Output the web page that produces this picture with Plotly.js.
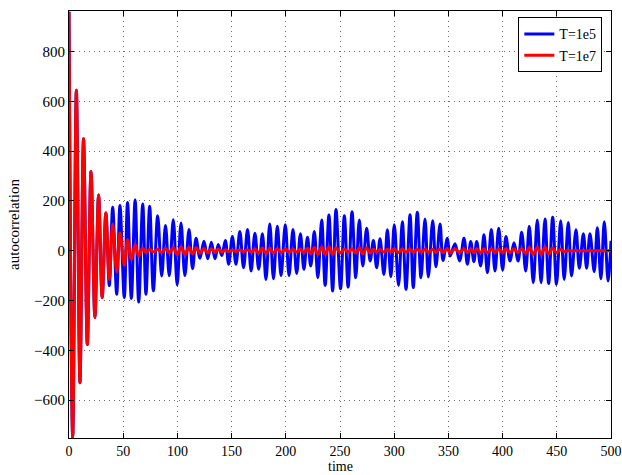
<!DOCTYPE html>
<html>
<head>
<meta charset="utf-8">
<script src="https://cdn.plot.ly/plotly-3.0.1.min.js"></script>
<style>html,body{margin:0;padding:0;background:#fff;}#chart{width:622px;height:475px;}</style>
</head>
<body>
<div id="chart"></div>
<script>
// Times of the successive peaks/troughs
const tExt = [
  0, 3.4, 6.8, 10.1, 13.4, 16.9, 20.3, 23.9, 27.3, 30.6,
  34.0, 37.2, 40.3, 44.0, 47.0, 51.0, 54.0, 57.5, 61.0, 64.3,
  68.0, 71.0, 74.4, 77.8, 81.8, 85.5, 89.0, 92.5, 96.2, 99.8,
  103.3, 106.9, 110.7, 114.0, 117.2, 120.8, 124.5, 128.0, 131.3, 134.7,
  137.7, 141.0, 144.2, 147.3, 150.7, 154.0, 157.6, 161.0, 164.7, 168.0,
  171.5, 175.0, 178.4, 181.7, 185.2, 188.6, 192.2, 195.6, 199.5, 203.0,
  206.6, 210.0, 213.5, 216.7, 220.0, 223.0, 226.3, 229.6, 233.1, 236.3,
  239.8, 243.2, 246.3, 250.5, 254.0, 257.5, 261.1, 264.5, 267.8, 271.0,
  274.6, 277.8, 280.8, 283.8, 286.9, 290.5, 293.7, 296.9, 300.1, 304.0,
  307.5, 310.9, 314.6, 317.6, 321.3, 324.7, 328.4, 331.5, 335.5, 338.5,
  342.3, 345.0, 349.0, 351.6, 356.1, 360.3, 364.4, 367.5, 370.6, 373.5,
  376.1, 379.7, 382.8, 386.0, 389.6, 393.0, 396.4, 400.0, 403.1, 406.8,
  410.5, 414.3, 417.6, 421.3, 424.6, 428.3, 432.0, 435.5, 439.1, 442.5,
  446.2, 449.7, 453.6, 456.8, 460.6, 463.6, 467.7, 470.8, 474.5, 477.5,
  480.6, 484.5, 487.4, 490.7, 493.8, 497.3, 500
];

// T=1e5 (blue) values at those times
const blueT1e5 = [
  960, -748, 645, -530, 450, -376, 318, -268, 224, -188,
  152, -140, 175, -175, 182, -188, 194, -192, 204, -206,
  188, -175, 179, -161, 141, -101, 101, -100, 125, -137,
  112, -99, 85, -72, 50, -30, 38, -32, 34, -32,
  25, -20, 41, -54, 57, -54, 77, -68, 85, -81,
  70, -74, 68, -115, 108, -112, 98, -99, 104, -99,
  85, -91, 68, -74, 54, -61, 77, -108, 124, -139,
  144, -162, 166, -153, 141, -146, 157, -108, 124, -61,
  90, -41, 41, -68, 48, -95, 84, -104, 104, -139,
  117, -155, 145, -148, 155, -108, 128, -105, 121, -64,
  108, -39, 50, -21, 28, -41, 50, -54, 37, -44,
  37, -61, 64, -88, 85, -81, 90, -77, 57, -41,
  32, -41, 74, -81, 98, -128, 124, -128, 128, -131,
  135, -135, 121, -115, 114, -101, 84, -70, 68, -70,
  68, -84, 92, -112, 117, -121, 40
];

// T=1e7 (red) values at those times
const redT1e7 = [
  960, -748, 645, -530, 450, -376, 318, -268, 224, -188,
  152, -115, 108, -86, 72, -58, 44, -34, 24, -21,
  10, -8, 6, -5, 6, -8, 10, -10, 13, -15,
  15, -15, 14, -13, 12, -10, 9, -9, 8, -7,
  6, -5, 4, -3, 3, -3, 3, -3, 4, -5,
  7, -9, 11, -11, 11, -10, 9, -8, 7, -6,
  6, -6, 7, -8, 10, -12, 13, -14, 14, -15,
  16, -15, 12, -9, 7, -6, 8, -10, 13, -13,
  12, -9, 6, -5, 5, -5, 6, -6, 7, -7,
  7, -7, 7, -6, 6, -6, 6, -6, 6, -6,
  7, -8, 9, -9, 8, -8, 8, -8, 8, -8,
  8, -8, 8, -8, 8, -8, 8, -8, 8, -8,
  8, -8, 9, -11, 13, -14, 14, -14, 14, -13,
  11, -9, 6, -4, 2, -1, 1, 0, 0, 0,
  0, 0, 0, 0, 0, 0, 0
];

const xTicks = [0, 50, 100, 150, 200, 250, 300, 350, 400, 450, 500];
const yTicks = [-600, -400, -200, 0, 200, 400, 600, 800];
const seriesNames = ['T=1e5', 'T=1e7'];
const xTitle = 'time';
const yTitle = 'autocorrelation';

const FAMILY = 'Liberation Serif';
function f(size) { return {family: FAMILY, size: size, color: '#000'}; }

const traces = [
  {x: tExt, y: blueT1e5, name: seriesNames[0], type: 'scatter', mode: 'lines',
   line: {color: '#0000ff', width: 3, shape: 'spline', smoothing: 1}},
  {x: tExt, y: redT1e7, name: seriesNames[1], type: 'scatter', mode: 'lines',
   line: {color: '#ff0000', width: 3, shape: 'spline', smoothing: 1}}
];

function axisBase(size) {
  return {
    showline: true, linecolor: '#000', linewidth: 1, mirror: 'ticks',
    ticks: 'inside', ticklen: 5, tickcolor: '#000', tickwidth: 1,
    showgrid: true, gridcolor: '#6e6e6e', griddash: '1px,4px', gridwidth: 1,
    zeroline: false, ticklabeloverflow: 'allow',
    tickfont: f(size)
  };
}

const layout = {
  width: 622, height: 475,
  margin: {l: 69, r: 11, t: 11, b: 37},
  paper_bgcolor: '#fff', plot_bgcolor: '#fff',
  font: f(15),
  showlegend: true,
  legend: {x: 0.984, xanchor: 'right', y: 0.985, yanchor: 'top',
    bgcolor: '#fff', bordercolor: '#000', borderwidth: 1,
    font: f(14)},
  xaxis: Object.assign(axisBase(14), {
    range: [0, 500], tickvals: xTicks, ticktext: xTicks.map(String)
  }),
  yaxis: Object.assign(axisBase(15), {
    range: [-752, 963], tickvals: yTicks,
    ticktext: yTicks.map(v => v < 0 ? '\u2212' + Math.abs(v) : String(v)),
    title: {text: yTitle, font: f(15), standoff: 10}
  }),
  annotations: [
    {text: xTitle, xref: 'paper', yref: 'paper', x: 0.5, xanchor: 'center',
     y: -37 / 427, yanchor: 'bottom', yshift: 0, showarrow: false,
     font: f(14), borderpad: 0}
  ]
};

Plotly.newPlot('chart', traces, layout, {displayModeBar: false, staticPlot: true});
</script>
</body>
</html>
